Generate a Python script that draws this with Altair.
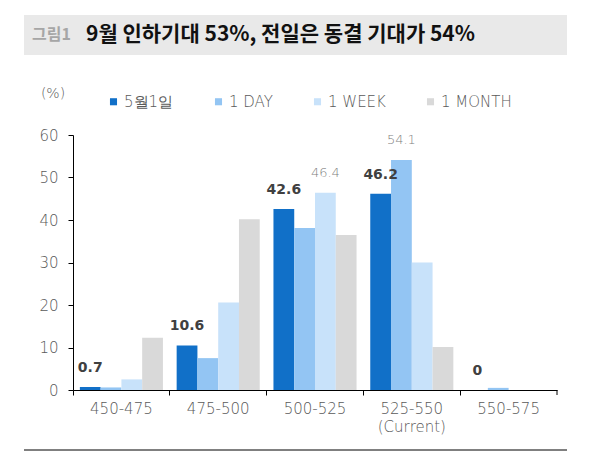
import altair as alt
import pandas as pd

categories = ["450-475", "475-500", "500-525", "525-550", "550-575"]
series = ["5월1일", "1 DAY", "1 WEEK", "1 MONTH"]
colors = ["#1170C8", "#93C5F3", "#C8E2FA", "#D9D9D9"]

may1 = [0.7, 10.5, 42.6, 46.2, 0.0]
day1 = [0.6, 7.5, 38.1, 54.1, 0.5]
week1 = [2.5, 20.6, 46.4, 30.0, 0.0]
month1 = [12.3, 40.2, 36.5, 10.1, 0.0]

# labels shown above bars ("" = none)
may1_lbl = ["0.7", "10.6", "42.6", "46.2", "0"]
day1_lbl = ["", "", "", "54.1", ""]
week1_lbl = ["", "", "46.4", "", ""]
month1_lbl = ["", "", "", "", ""]

rows = []
for s, vals, lbls in zip(series, [may1, day1, week1, month1],
                         [may1_lbl, day1_lbl, week1_lbl, month1_lbl]):
    for c, v, l in zip(categories, vals, lbls):
        rows.append({"cat": c, "series": s, "value": v, "label": l,
                     "bold": s == "5월1일"})
df = pd.DataFrame(rows)

KFONT = "Noto Sans CJK KR"
NFONT = "DejaVu Sans"
W, H = 484, 255

x_enc = alt.X("cat:N", sort=categories,
              scale=alt.Scale(paddingInner=0, paddingOuter=0),
              axis=alt.Axis(title=None, labelAngle=0, bandPosition=0,
                            domainColor="black", tickColor="black",
                            tickSize=5, labelFontSize=15, labelColor="#595959",
                            labelFont=NFONT, labelFontWeight=300,
                            labelPadding=6, labelLineHeight=18,
                            labelExpr="datum.value == '525-550' ? ['525-550', '(Current)'] : datum.value"))
xo_enc = alt.XOffset("series:N", sort=series,
                     scale=alt.Scale(paddingInner=0, paddingOuter=0.33))

bars = alt.Chart(df).mark_bar().encode(
    x=x_enc,
    xOffset=xo_enc,
    y=alt.Y("value:Q", scale=alt.Scale(domain=[0, 60]),
            axis=alt.Axis(title=None, values=[0, 10, 20, 30, 40, 50, 60],
                          grid=False, domainColor="black", tickColor="black",
                          tickSize=5, labelFontSize=15, labelColor="#595959",
                          labelFont=NFONT, labelFontWeight=300, labelPadding=10)),
    color=alt.Color("series:N", sort=series,
                    scale=alt.Scale(domain=series, range=colors),
                    legend=alt.Legend(title=None, orient="none", direction="horizontal",
                                      legendX=33, legendY=-41, symbolType="square",
                                      symbolSize=50, symbolStrokeWidth=0,
                                      labelFontSize=15, labelColor="#595959",
                                      labelFont=NFONT, labelFontWeight=300,
                                      labelOffset=3, columnPadding=37)),
)

lbl_bold = alt.Chart(df[df["bold"] & (df["label"] != "")]).mark_text(
    dy=-15, baseline="alphabetic", fontSize=14, fontWeight="bold",
    font=NFONT, color="#404040"
).encode(x=alt.X("cat:N", sort=categories), xOffset=xo_enc, y="value:Q", text="label:N")

lbl_light = alt.Chart(df[(~df["bold"]) & (df["label"] != "")]).mark_text(
    dy=-16, baseline="alphabetic", fontSize=13, fontWeight=300,
    font=NFONT, color="#7F7F7F"
).encode(x=alt.X("cat:N", sort=categories), xOffset=xo_enc, y="value:Q", text="label:N")

one = pd.DataFrame({"a": [0]})

title_bar = alt.Chart(one).mark_rect(color="#E9E9E9").encode(
    x=alt.value(-49), x2=alt.value(494), y=alt.value(-120), y2=alt.value(-80))

fig_no = alt.Chart(pd.DataFrame({"t": ["그림1"]})).mark_text(
    align="left", baseline="middle", fontSize=16, fontWeight="bold",
    font=KFONT, color="#A6A6A6"
).encode(x=alt.value(-41), y=alt.value(-100), text="t:N")

title_txt = alt.Chart(pd.DataFrame({"t": ["9월 인하기대 53%, 전일은 동결 기대가 54%"]})).mark_text(
    align="left", baseline="middle", fontSize=21, fontWeight="bold",
    font=KFONT, color="#111111"
).encode(x=alt.value(13), y=alt.value(-100), text="t:N")

unit = alt.Chart(pd.DataFrame({"t": ["(%)"]})).mark_text(
    align="center", baseline="middle", fontSize=14, fontWeight=300,
    font=NFONT, color="#595959"
).encode(x=alt.value(-20), y=alt.value(-41), text="t:N")

end_tick = alt.Chart(one).mark_rule(color="black").encode(
    x=alt.value(W), y=alt.value(H), y2=alt.value(H + 5))

bottom_line = alt.Chart(one).mark_rule(color="black", strokeWidth=1).encode(
    x=alt.value(-49), x2=alt.value(494), y=alt.value(315))

chart = alt.layer(
    title_bar, fig_no, title_txt, unit, bars, lbl_bold, lbl_light, end_tick, bottom_line
).properties(
    width=W, height=H,
    autosize=alt.AutoSizeParams(type="none"),
    padding={"left": 65, "top": 127, "right": 36, "bottom": 62},
).configure_view(stroke=None)

chart.save("out.html", embed_options={"renderer": "svg", "actions": False})
